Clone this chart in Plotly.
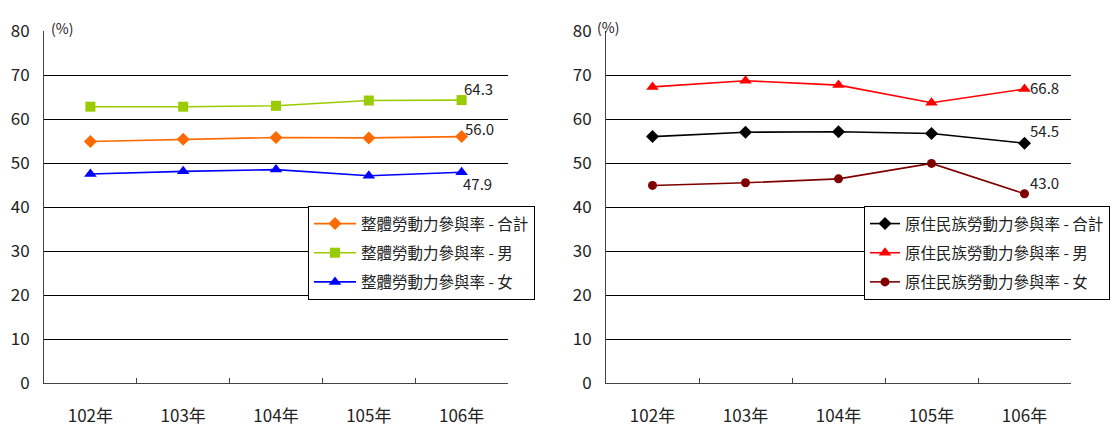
import plotly.graph_objects as go

years = ["102年", "103年", "104年", "105年", "106年"]

total_all = [54.9, 55.4, 55.8, 55.7, 56.0]
male_all = [62.8, 62.8, 63.0, 64.2, 64.3]
female_all = [47.5, 48.1, 48.5, 47.1, 47.9]

total_ind = [56.0, 57.0, 57.1, 56.7, 54.5]
male_ind = [67.3, 68.7, 67.7, 63.7, 66.8]
female_ind = [44.9, 45.5, 46.4, 49.9, 43.0]

names_left = ["整體勞動力參與率 - 合計", "整體勞動力參與率 - 男", "整體勞動力參與率 - 女"]
names_right = ["原住民族勞動力參與率 - 合計", "原住民族勞動力參與率 - 男", "原住民族勞動力參與率 - 女"]

FONT = "Noto Sans CJK TC"
W, H = 1116, 432

def px(x):
    return x / W

def py(y):
    return 1 - y / H

fig = go.Figure()

left_series = [
    (total_all, names_left[0], "#FF6A00", "diamond", 10),
    (male_all, names_left[1], "#99CC00", "square", 10),
    (female_all, names_left[2], "#0000FF", "triangle-up", 11),
]
right_series = [
    (total_ind, names_right[0], "#000000", "diamond", 10),
    (male_ind, names_right[1], "#FF0000", "triangle-up", 11),
    (female_ind, names_right[2], "#800000", "circle", 9),
]

for i, (vals, name, col, sym, sz) in enumerate(left_series):
    fig.add_trace(go.Scatter(
        x=years, y=vals, name=name, mode="lines+markers",
        line=dict(color=col, width=1.6),
        marker=dict(symbol=sym, size=sz, color=col),
        xaxis="x", yaxis="y", legend="legend", legendgroup="l%d" % i,
    ))
for i, (vals, name, col, sym, sz) in enumerate(right_series):
    fig.add_trace(go.Scatter(
        x=years, y=vals, name=name, mode="lines+markers",
        line=dict(color=col, width=1.6),
        marker=dict(symbol=sym, size=sz, color=col),
        xaxis="x2", yaxis="y2", legend="legend2", legendgroup="r%d" % i,
    ))

ann = []
label_specs = [
    ("x", "y", male_all, 17, 12),
    ("x", "y", total_all, 18, 8),
    ("x", "y", female_all, 16, -11),
    ("x2", "y2", male_ind, 20, 2),
    ("x2", "y2", total_ind, 20, 13),
    ("x2", "y2", female_ind, 20, 11),
]
for xr, yr, vals, xs, ys in label_specs:
    ann.append(dict(x=years[-1], y=vals[-1], xref=xr, yref=yr,
                    text="%.1f" % vals[-1], showarrow=False,
                    xshift=xs, yshift=ys,
                    font=dict(family=FONT, size=15, color="#222")))
ann.append(dict(x=px(49), y=py(16), xref="paper", yref="paper", text="(%)",
                showarrow=False, font=dict(family=FONT, size=14, color="#222")))
ann.append(dict(x=px(608), y=py(15), xref="paper", yref="paper", text="(%)",
                showarrow=False, font=dict(family=FONT, size=14, color="#222")))

xax = dict(type="category", range=[-0.5, 4.5], tickson="boundaries",
           ticks="inside", ticklen=5, tickcolor="#444", showline=True,
           linecolor="#444", linewidth=1, showgrid=False, automargin=False,
           tickfont=dict(family=FONT, size=17, color="#222"),
           ticklabelstandoff=18, fixedrange=True)
yax = dict(range=[0, 80], dtick=10, showline=True, linecolor="#444",
           linewidth=1, showgrid=True, gridcolor="#000", gridwidth=1,
           zeroline=False, ticks="", automargin=False,
           tickfont=dict(family=FONT, size=17, color="#222"),
           ticklabelstandoff=10, fixedrange=True)

leg = dict(bgcolor="white", bordercolor="#000", borderwidth=1,
           font=dict(family=FONT, size=15.5, color="#222"),
           xanchor="left", yanchor="top", tracegroupgap=6,
           traceorder="grouped")

fig.update_layout(
    width=W, height=H,
    margin=dict(l=0, r=0, t=0, b=0, autoexpand=False),
    paper_bgcolor="white", plot_bgcolor="white",
    xaxis=dict(xax, domain=[px(44), px(508)], anchor="y"),
    yaxis=dict(yax, domain=[py(383), py(31)], anchor="x"),
    xaxis2=dict(xax, domain=[px(606), px(1071)], anchor="y2"),
    yaxis2=dict(yax, domain=[py(383), py(31)], anchor="x2"),
    legend=dict(leg, x=px(308), y=py(206), itemwidth=42),
    legend2=dict(leg, x=px(864), y=py(206), itemwidth=30),
    annotations=ann,
    showlegend=True,
)

fig.write_html("out.html", config={"displayModeBar": False},
               post_script="document.body.style.margin='0';document.body.style.overflow='hidden';")
